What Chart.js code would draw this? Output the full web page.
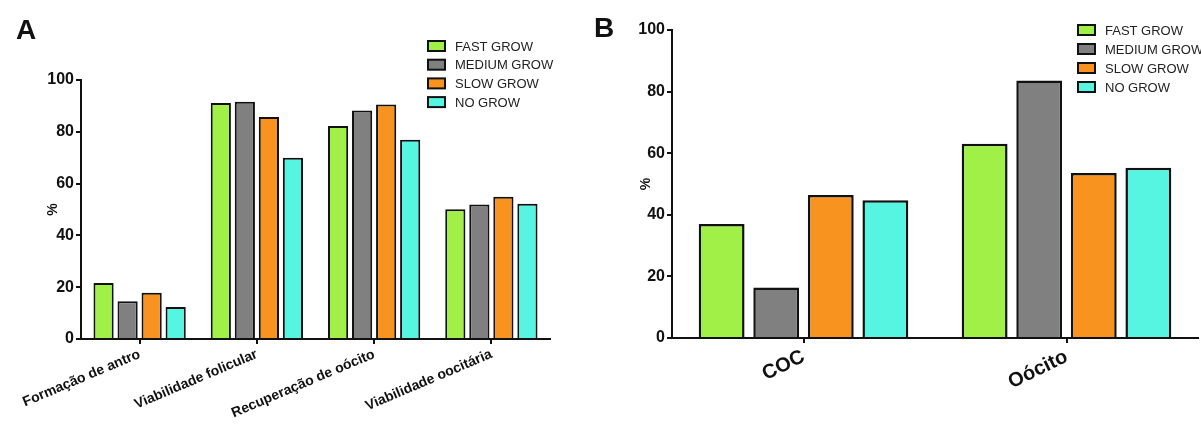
<!DOCTYPE html>
<html lang="pt-br">
<head>
    <meta charset="UTF-8">
    <title>Crescimento folicular</title>
    <script src="https://cdn.jsdelivr.net/npm/chart.js"></script>
    <style>
        body { margin: 0; background: #fff; }
        #wrap { position: relative; width: 1201px; height: 434px; }
        .painel { position: absolute; top: 0; height: 434px; }
        .letra { position: absolute; font: bold 28px "Liberation Sans", Arial, sans-serif; color: #111; }
    </style>
</head>
<body>
<div id="wrap">
    <div class="painel" style="left:0;width:600px"><canvas id="graficoA"></canvas></div>
    <div class="painel" style="left:600px;width:601px"><canvas id="graficoB"></canvas></div>
    <div class="letra" style="left:16px;top:14px">A</div>
    <div class="letra" style="left:594px;top:12px">B</div>
</div>

<script>
    // Dados
    const grupos = ['FAST GROW', 'MEDIUM GROW', 'SLOW GROW', 'NO GROW'];
    const cores = ['#a0f048', '#808080', '#f7931e', '#55f5e1'];

    // Painel A
    const categoriasA = ['Formação de antro', 'Viabilidade folicular', 'Recuperação de oócito', 'Viabilidade oocitária'];
    const fastA = [21.6, 91.1, 82.2, 50.1];
    const mediumA = [14.6, 91.6, 88.2, 51.9];
    const slowA = [17.9, 85.7, 90.5, 54.9];
    const noA = [12.4, 70.0, 76.9, 52.2];

    // Painel B
    const categoriasB = ['COC', 'Oócito'];
    const fastB = [37.0, 63.1];
    const mediumB = [16.4, 83.6];
    const slowB = [46.4, 53.6];
    const noB = [44.7, 55.3];

    const ticksY = [0, 20, 40, 60, 80, 100];

    const fonte = '"Liberation Sans", Arial, sans-serif';

    // legenda desenhada dentro da área do gráfico
    const legendaPlugin = {
        id: 'legendaFixa',
        afterDraw(chart, args, opts) {
            const ctx = chart.ctx;
            ctx.save();
            ctx.font = '13px ' + fonte;
            ctx.textBaseline = 'middle';
            chart.data.datasets.forEach((ds, i) => {
                const y = opts.y + i * opts.passo;
                ctx.fillStyle = ds.backgroundColor;
                ctx.fillRect(opts.x, y - 5, 17, 10);
                ctx.strokeStyle = '#111';
                ctx.lineWidth = 2;
                ctx.strokeRect(opts.x, y - 5, 17, 10);
                ctx.fillStyle = '#222';
                ctx.fillText(ds.label, opts.x + 27, y + 1);
            });
            ctx.restore();
        }
    };

    function montarDatasets(series, borda) {
        return series.map((valores, i) => ({
            label: grupos[i],
            data: valores,
            backgroundColor: cores[i],
            borderColor: '#111',
            borderWidth: borda
        }));
    }

    function criarGrafico(id, categorias, series, cfg) {
        return new Chart(document.getElementById(id), {
            type: 'bar',
            data: { labels: categorias, datasets: montarDatasets(series, cfg.borda) },
            options: {
                responsive: true,
                maintainAspectRatio: false,
                animation: false,
                categoryPercentage: cfg.catPct,
                barPercentage: 0.84,
                layout: { padding: { top: cfg.topo, right: cfg.direita, left: 0, bottom: 0 } },
                plugins: {
                    legend: { display: false },
                    tooltip: { enabled: false },
                    legendaFixa: cfg.legenda
                },
                scales: {
                    x: {
                        grid: { display: true, offset: false, drawOnChartArea: false, drawTicks: true, tickLength: 5, color: '#111', lineWidth: 2 },
                        border: { display: true, color: '#111', width: 2 },
                        ticks: {
                            autoSkip: false,
                            maxRotation: cfg.rot,
                            minRotation: cfg.rot,
                            padding: 2,
                            color: '#111',
                            font: { family: fonte, size: cfg.fonteX, weight: 'bold' }
                        },
                        afterFit(scale) { scale.height = 434 - cfg.base; }
                    },
                    y: {
                        min: 0,
                        max: 100,
                        afterBuildTicks(scale) { scale.ticks = ticksY.map(v => ({ value: v })); },
                        grid: { display: true, drawOnChartArea: false, drawTicks: true, tickLength: 5, color: '#111', lineWidth: 2 },
                        border: { display: true, color: '#111', width: 2 },
                        ticks: {
                            padding: 2,
                            color: '#111',
                            font: { family: fonte, size: 16, weight: 'bold' }
                        },
                        title: {
                            display: true,
                            text: '%',
                            color: '#111',
                            padding: { top: cfg.tituloY, bottom: 0 },
                            font: { family: fonte, size: 14, weight: 'bold' }
                        },
                        afterFit(scale) { scale.width = cfg.esquerda; }
                    }
                }
            },
            plugins: [legendaPlugin]
        });
    }

    criarGrafico('graficoA', categoriasA, [fastA, mediumA, slowA, noA], {
        borda: 2, catPct: 0.82, topo: 80, direita: 50, base: 339, esquerda: 81,
        rot: 23, fonteX: 14, tituloY: 45,
        legenda: { x: 428, y: 46, passo: 18.7 }
    });

    criarGrafico('graficoB', categoriasB, [fastB, mediumB, slowB, noB], {
        borda: 2.5, catPct: 0.83, topo: 30, direita: 3, base: 338, esquerda: 72,
        rot: 26, fonteX: 20, tituloY: 38,
        legenda: { x: 478, y: 30, passo: 19 }
    });
</script>
</body>
</html>
